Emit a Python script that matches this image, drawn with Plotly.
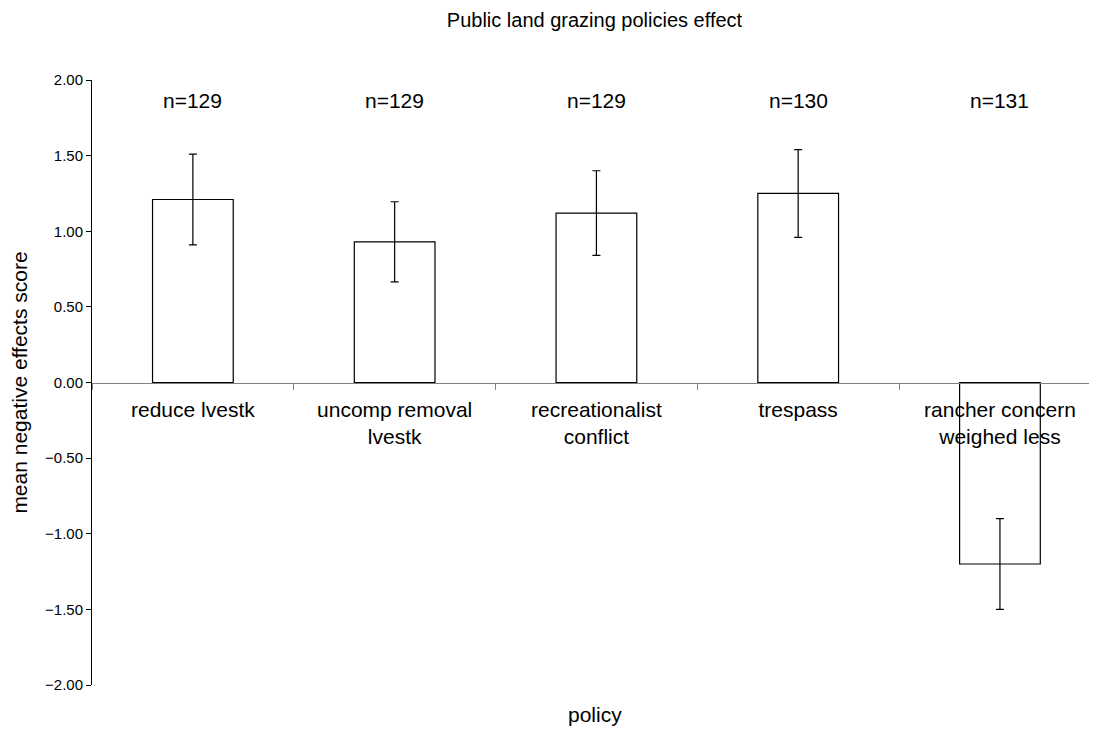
import plotly.graph_objects as go

# dati
policies = ["reduce lvestk", "uncomp removal<br>lvestk", "recreationalist<br>conflict",
            "trespass", "rancher concern<br>weighed less"]
means = [1.21, 0.93, 1.12, 1.25, -1.20]
errors = [0.30, 0.265, 0.28, 0.29, 0.30]
n_labels = ["n=129", "n=129", "n=129", "n=130", "n=131"]
y_ticks = [-2, -1.5, -1, -0.5, 0, 0.5, 1, 1.5, 2]

fig = go.Figure()

fig.add_trace(go.Bar(
    x=policies,
    y=means,
    width=0.4,
    marker=dict(color="white", line=dict(color="black", width=1.2)),
    error_y=dict(type="data", array=errors, color="black", thickness=1.2, width=4),
    showlegend=False,
))

# etichette n= sopra le barre
for p, lab in zip(policies, n_labels):
    fig.add_annotation(x=p, y=1.865, text=lab, showarrow=False,
                       font=dict(size=21, color="black"))

# titolo asse x in basso
fig.add_annotation(x=0.5, y=-0.048, xref="paper", yref="paper", text="policy",
                   showarrow=False, yanchor="middle", font=dict(size=21, color="black"))

fig.update_layout(
    title=dict(text="Public land grazing policies effect", x=0.5, xanchor="center",
               xref="paper", y=0.983, yanchor="middle", font=dict(size=20, color="black")),
    width=1089, height=721,
    margin=dict(l=84, r=0, t=72, b=44),
    plot_bgcolor="white", paper_bgcolor="white",
    font=dict(family="Arial, Liberation Sans, sans-serif", color="black"),
    xaxis=dict(
        anchor="free", position=0.5,
        range=[-0.5, 4.481],
        showline=True, linecolor="#808080", linewidth=1,
        ticks="outside", tickson="boundaries", ticklen=6, tickcolor="#808080",
        tickfont=dict(size=21, color="black"), ticklabelstandoff=8,
        showgrid=False, zeroline=False,
    ),
    yaxis=dict(
        range=[-2, 2], tickvals=y_ticks, tickformat=".2f",
        showline=True, linecolor="black", linewidth=1,
        ticks="outside", ticklen=5, tickcolor="black",
        tickfont=dict(size=15, color="black"),
        showgrid=False, zeroline=False,
        title=dict(text="mean negative effects score", font=dict(size=21), standoff=12),
    ),
)

fig.write_html("out.html")
